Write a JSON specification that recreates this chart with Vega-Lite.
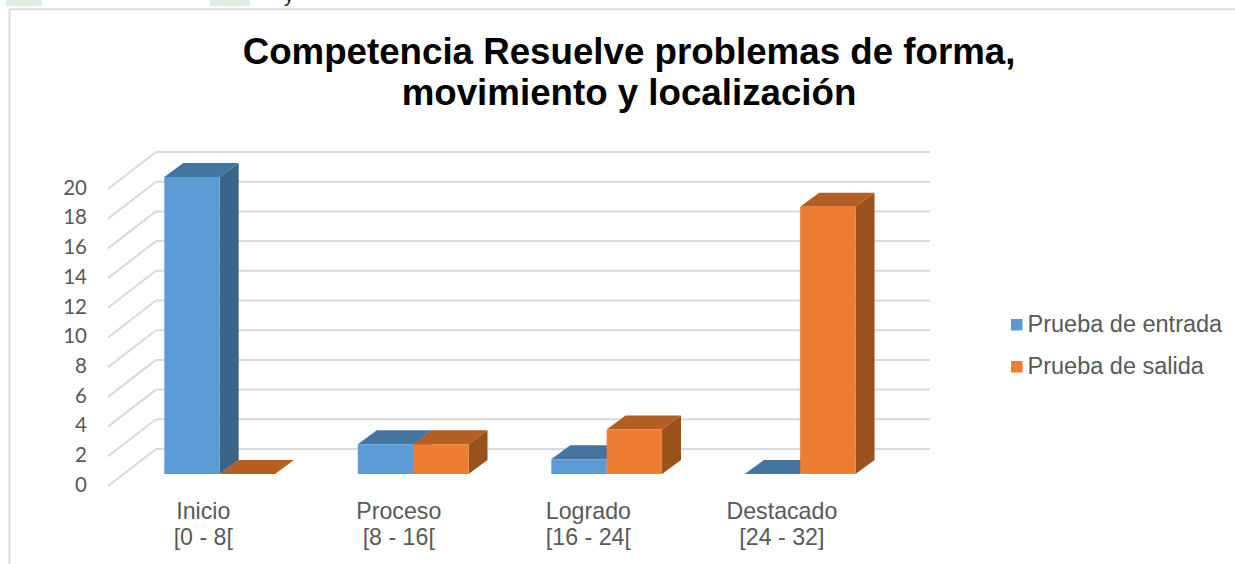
{
"$schema":"https://vega.github.io/schema/vega-lite/v6.json",
"width":774,"height":297,
"autosize":{"type":"none"},
"padding":{"left":108,"top":177,"right":353,"bottom":90},
"background":"white",
"title":{"text":["Competencia Resuelve problemas de forma,","movimiento y localización"],"anchor":"middle","dx":134,"offset":-127,"fontSize":36.7,"lineHeight":41,"font":"Liberation Sans","fontWeight":"bold","color":"#000000"},
"config":{"view":{"stroke":null},"axis":{"grid":false,"domain":false,"ticks":false,"title":null,"labelOverlap":false,"labelBound":false}},
"datasets":{
"barras":[
{"categoria":"Inicio","indice":0,"serie":"Prueba de entrada","valor":20},
{"categoria":"Proceso","indice":1,"serie":"Prueba de entrada","valor":2},
{"categoria":"Logrado","indice":2,"serie":"Prueba de entrada","valor":1},
{"categoria":"Destacado","indice":3,"serie":"Prueba de entrada","valor":0},
{"categoria":"Inicio","indice":0,"serie":"Prueba de salida","valor":0},
{"categoria":"Proceso","indice":1,"serie":"Prueba de salida","valor":2},
{"categoria":"Logrado","indice":2,"serie":"Prueba de salida","valor":3},
{"categoria":"Destacado","indice":3,"serie":"Prueba de salida","valor":18}
],
"marcas":[{"valor":0},{"valor":2},{"valor":4},{"valor":6},{"valor":8},{"valor":10},{"valor":12},{"valor":14},{"valor":16},{"valor":18},{"valor":20}]
},
"layer":[
{"data":{"values":[{"n":1}]},"mark":{"type":"rule","color":"#dcdcdc","strokeWidth":2},
 "encoding":{"x":{"datum":-0.509,"type":"quantitative","scale":{"domain":[0,4],"nice":false,"zero":false},
   "axis":{"values":[0.49,1.5,2.48,3.48],"labelExpr":"datum.value<1?['Inicio','[0 - 8[']:datum.value<2?['Proceso','[8 - 16[']:datum.value<3?['Logrado','[16 - 24[']:['Destacado','[24 - 32]']","labelFont":"Liberation Sans","labelFontSize":23.2,"labelColor":"#595959","labelPadding":26,"labelLineHeight":26,"labelAngle":0,"labelOverlap":false,"labelFlush":false}},
  "y":{"datum":31.3,"type":"quantitative","scale":{"domain":[0,20],"nice":false,"zero":false},
   "axis":{"labels":false}},
  "y2":{"datum":-6.06}}},
{"data":{"values":[{"n":1}]},"mark":{"type":"rule","color":"#dcdcdc","strokeWidth":2},
 "encoding":{"x":{"datum":-0.509,"type":"quantitative"},"x2":{"datum":5.824},"y":{"datum":31.3,"type":"quantitative"}}},
{"data":{"values":[{"a":0.0,"b":0.207}]},"mark":{"type":"rect","color":"#deebe0"},
 "encoding":{"x":{"datum":-0.527,"type":"quantitative"},"x2":{"datum":-0.341},"y":{"datum":31.9,"type":"quantitative"},"y2":{"datum":31.5}}},
{"data":{"values":[{"a":0.0,"b":0.207}]},"mark":{"type":"rect","color":"#deebe0"},
 "encoding":{"x":{"datum":0.527,"type":"quantitative"},"x2":{"datum":0.734},"y":{"datum":31.9,"type":"quantitative"},"y2":{"datum":31.5}}},
{"data":{"values":[{"t":"y"}]},"mark":{"type":"text","font":"Liberation Sans","fontSize":20,"color":"#222222","align":"center","baseline":"alphabetic"},
 "encoding":{"text":{"field":"t"},"x":{"datum":0.935,"type":"quantitative"},"y":{"datum":31.8,"type":"quantitative"}}},
{"data":{"name":"marcas"},"mark":{"type":"text","font":"Lato","fontSize":20.5,"color":"#595959","align":"right","baseline":"middle"},
 "transform":[{"calculate":"datum.valor-0.79","as":"yl"}],
 "encoding":{"text":{"field":"valor","type":"quantitative"},"x":{"datum":-0.1085,"type":"quantitative"},"y":{"field":"yl","type":"quantitative"}}},
{"data":{"name":"marcas"},"mark":{"type":"rule","color":"#d9d9d9","strokeWidth":2},
 "transform":[{"calculate":"datum.valor+1.684","as":"yf"}],
 "encoding":{"x":{"datum":0.248,"type":"quantitative"},"x2":{"datum":4.248},"y":{"field":"yf","type":"quantitative"}}},
{"data":{"name":"marcas"},"mark":{"type":"rule","color":"#d9d9d9","strokeWidth":2},
 "transform":[{"calculate":"datum.valor+1.684","as":"yf"},{"calculate":"datum.valor-0.808","as":"yi"}],
 "encoding":{"x":{"datum":0,"type":"quantitative"},"x2":{"datum":0.248},"y":{"field":"yi","type":"quantitative"},"y2":{"field":"yf"}}},

{"data":{"name":"barras"},"mark":{"type":"area","color":"#3a6589"},
 "transform":[{"filter":"datum.serie=='Prueba de entrada'"},{"calculate":"[0,1]","as":"t"},{"flatten":["t"]},
  {"calculate":"datum.indice+0.291+0.2863+datum.t*0.098","as":"px"},{"calculate":"datum.valor+datum.t*0.943","as":"py"},{"calculate":"datum.t*0.943","as":"py2"}],
 "encoding":{"x":{"field":"px","type":"quantitative"},"y":{"field":"py","type":"quantitative","stack":null},"y2":{"field":"py2"},"detail":{"field":"categoria"}}},
{"data":{"name":"barras"},"mark":{"type":"area","orient":"horizontal","color":"#4475a1"},
 "transform":[{"filter":"datum.serie=='Prueba de entrada'"},{"calculate":"[0,1]","as":"t"},{"flatten":["t"]},
  {"calculate":"datum.indice+0.291+datum.t*0.098","as":"px"},{"calculate":"datum.px+0.2863","as":"px2"},{"calculate":"datum.valor+datum.t*0.943","as":"py"}],
 "encoding":{"y":{"field":"py","type":"quantitative"},"x":{"field":"px","type":"quantitative","stack":null},"x2":{"field":"px2"},"detail":{"field":"categoria"}}},
{"data":{"name":"barras"},"mark":{"type":"rect"},
 "transform":[{"filter":"datum.serie=='Prueba de entrada'"},{"calculate":"datum.indice+0.291","as":"px"},{"calculate":"datum.px+0.2863","as":"px2"},{"calculate":"0","as":"base"}],
 "encoding":{"x":{"field":"px","type":"quantitative"},"x2":{"field":"px2"},"y":{"field":"valor","type":"quantitative"},"y2":{"field":"base"},
  "color":{"field":"serie","type":"nominal","scale":{"domain":["Prueba de entrada","Prueba de salida"],"range":["#5b9bd5","#ed7d31"]},
   "legend":{"title":null,"orient":"none","legendX":897,"legendY":136,"symbolType":"square","symbolSize":132,"symbolStrokeWidth":0,"labelFont":"Liberation Sans","labelFontSize":23.5,"labelLimit":300,"labelColor":"#595959","labelOffset":-1,"rowPadding":17,"padding":0}}}},

{"data":{"name":"barras"},"mark":{"type":"area","color":"#9a511c"},
 "transform":[{"filter":"datum.serie=='Prueba de salida'"},{"calculate":"[0,1]","as":"t"},{"flatten":["t"]},
  {"calculate":"datum.indice+0.577+0.2863+datum.t*0.098","as":"px"},{"calculate":"datum.valor+datum.t*0.943","as":"py"},{"calculate":"datum.t*0.943","as":"py2"}],
 "encoding":{"x":{"field":"px","type":"quantitative"},"y":{"field":"py","type":"quantitative","stack":null},"y2":{"field":"py2"},"detail":{"field":"categoria"}}},
{"data":{"name":"barras"},"mark":{"type":"area","orient":"horizontal","color":"#b45e22"},
 "transform":[{"filter":"datum.serie=='Prueba de salida'"},{"calculate":"[0,1]","as":"t"},{"flatten":["t"]},
  {"calculate":"datum.indice+0.577+datum.t*0.098","as":"px"},{"calculate":"datum.px+0.2863","as":"px2"},{"calculate":"datum.valor+datum.t*0.943","as":"py"}],
 "encoding":{"y":{"field":"py","type":"quantitative"},"x":{"field":"px","type":"quantitative","stack":null},"x2":{"field":"px2"},"detail":{"field":"categoria"}}},
{"data":{"name":"barras"},"mark":{"type":"rect"},
 "transform":[{"filter":"datum.serie=='Prueba de salida'"},{"calculate":"datum.indice+0.577","as":"px"},{"calculate":"datum.px+0.2863","as":"px2"},{"calculate":"0","as":"base"}],
 "encoding":{"x":{"field":"px","type":"quantitative"},"x2":{"field":"px2"},"y":{"field":"valor","type":"quantitative"},"y2":{"field":"base"},
  "color":{"field":"serie","type":"nominal"}}}
]
}
